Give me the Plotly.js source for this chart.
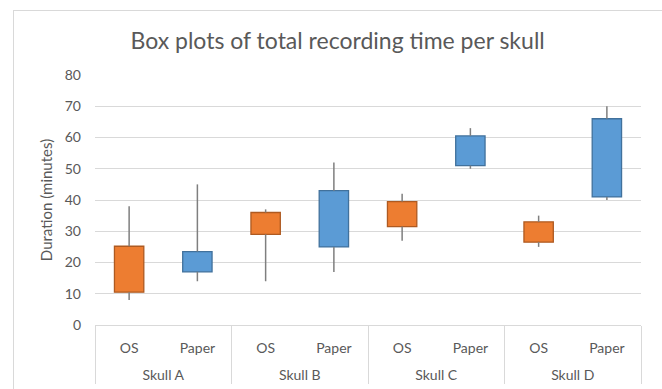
<!DOCTYPE html>
<html>
<head>
<meta charset="utf-8">
<script src="https://cdn.plot.ly/plotly-3.0.1.min.js"></script>
<style>
  html, body { margin: 0; padding: 0; background: #ffffff; }
  #frame { position: absolute; left: 13px; top: 10px; width: 700px; height: 400px; border: 1px solid #d9d9d9; box-sizing: border-box; }
  #chart { position: absolute; left: 0; top: 0; width: 662px; height: 389px; }
</style>
</head>
<body>
<div id="frame"></div>
<div id="chart"></div>
<script>
// Data
const skulls = ["Skull A", "Skull A", "Skull B", "Skull B", "Skull C", "Skull C", "Skull D", "Skull D"];
const methods = ["OS", "Paper", "OS", "Paper", "OS", "Paper", "OS", "Paper"];
const lowerWhisker = [8, 14, 14, 17, 27, 50, 25, 40];
const q1 = [10.5, 17, 29, 25, 31.5, 51, 26.5, 41];
const q3 = [25.2, 23.5, 36, 43, 39.5, 60.5, 33, 66];
const upperWhisker = [38, 45, 37, 52, 42, 63, 35, 70];
const yTicks = [0, 10, 20, 30, 40, 50, 60, 70, 80];

const colorMap = { "OS": "#ED7D31", "Paper": "#5B9BD5" };
const borderMap = { "OS": "#AE5A21", "Paper": "#41719C" };

// second-level labels get an empty first line so they sit lower, as in the reference
const x = [skulls.map(s => "\u00a0<br>" + s), methods];

const boxes = {
  type: "bar",
  x: x,
  base: q1,
  y: q3.map((v, i) => v - q1[i]),
  width: 0.43,
  marker: {
    color: methods.map(m => colorMap[m]),
    line: { color: methods.map(m => borderMap[m]), width: 1.3 }
  },
  hoverinfo: "skip",
  showlegend: false
};

const upper = {
  type: "scatter",
  mode: "markers",
  x: x,
  y: q3,
  marker: { size: 1, opacity: 0 },
  error_y: {
    type: "data", symmetric: false,
    array: upperWhisker.map((v, i) => v - q3[i]),
    arrayminus: q3.map(() => 0),
    width: 0, color: "#7f7f7f", thickness: 1.5
  },
  hoverinfo: "skip",
  showlegend: false
};

const lower = {
  type: "scatter",
  mode: "markers",
  x: x,
  y: q1,
  marker: { size: 1, opacity: 0 },
  error_y: {
    type: "data", symmetric: false,
    array: q1.map(() => 0),
    arrayminus: q1.map((v, i) => v - lowerWhisker[i]),
    width: 0, color: "#7f7f7f", thickness: 1.5
  },
  hoverinfo: "skip",
  showlegend: false
};

const layout = {
  width: 662,
  height: 389,
  margin: { l: 95, r: 21, t: 75, b: 64 },
  paper_bgcolor: "rgba(0,0,0,0)",
  plot_bgcolor: "rgba(0,0,0,0)",
  font: { family: "Lato, 'Open Sans', sans-serif", color: "#595959", size: 13 },
  title: {
    text: "Box plots of total recording time per skull",
    font: { family: "Lato, 'Open Sans', sans-serif", size: 23, color: "#595959" },
    x: 0.51, xanchor: "center", y: 0.895, yanchor: "middle"
  },
  xaxis: {
    type: "multicategory",
    showline: true, linecolor: "#d9d9d9", linewidth: 1,
    showdividers: true, dividercolor: "#d9d9d9", dividerwidth: 1,
    ticks: "outside", ticklen: 11, tickcolor: "rgba(0,0,0,0)",
    ticklabelstandoff: 10,
    tickfont: { size: 14, color: "#595959" },
    showgrid: false,
    zeroline: false
  },
  yaxis: {
    range: [0, 80],
    tickvals: yTicks,
    ticktext: yTicks.map(String),
    showgrid: true, gridcolor: "#d9d9d9", gridwidth: 1,
    zeroline: false,
    showline: false,
    ticklabelstandoff: 13,
    tickfont: { size: 14, color: "#595959" },
    title: { text: "Duration (minutes)", font: { size: 15, color: "#595959" }, standoff: 8 }
  },
  bargap: 0.5,
  showlegend: false
};

Plotly.newPlot("chart", [boxes, upper, lower], layout, { displayModeBar: false, staticPlot: true });
</script>
</body>
</html>
